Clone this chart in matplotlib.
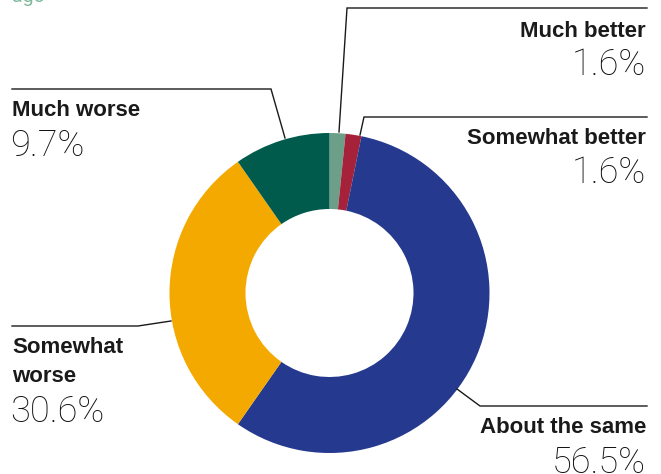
import matplotlib.pyplot as plt

# survey shares, clockwise from 12 o'clock
labels = ["Much better", "Somewhat better", "About the same", "Somewhat worse", "Much worse"]
shares = [1.6, 1.6, 56.5, 30.6, 9.7]
colors = ["#6c9f87", "#a5223a", "#25398e", "#f4a900", "#005b4c"]

W, H = 661, 474
CX, CY, R, RING = 329.5, 293, 160, 76

BOLD = dict(family=["Liberation Sans", "DejaVu Sans"], fontweight="bold",
            fontsize=16, color="#1a1a1a")
LIGHT = dict(family=["Roboto", "DejaVu Sans"], fontweight="light",
             fontsize=26, color="#111111")


def yy(y):
    # pixel rows measured from the top
    return H - y


fig = plt.figure(figsize=(W / 100, H / 100), dpi=100)
ax = fig.add_axes([0, 0, 1, 1])
ax.set_xlim(0, W)
ax.set_ylim(0, H)
ax.set_aspect("equal")
ax.axis("off")

ax.pie(shares, colors=colors, startangle=90, counterclock=False,
       center=(CX, yy(CY)), radius=R,
       wedgeprops=dict(width=RING, linewidth=0))
ax.set_xlim(0, W)
ax.set_ylim(0, H)

# leader lines (pixel coords, from the ring out to the label rule)
leaders = [
    [(339, 132), (347, 8), (647, 8)],
    [(360, 135), (364, 117), (647, 117)],
    [(457, 389), (480, 406), (647, 406)],
    [(171, 321), (138, 326), (12, 326)],
    [(285, 138), (271, 89), (12, 89)],
]
for pts in leaders:
    ax.plot([p[0] for p in pts], [yy(p[1]) for p in pts],
            color="#1a1a1a", lw=1.0, solid_joinstyle="miter")

pct = ["%.1f%%" % v for v in shares]

# right-hand labels
ax.text(646, yy(37), labels[0], ha="right", va="baseline", **BOLD)
ax.text(646, yy(75), pct[0], ha="right", va="baseline", **LIGHT)
ax.text(646, yy(144), labels[1], ha="right", va="baseline", **BOLD)
ax.text(646, yy(183), pct[1], ha="right", va="baseline", **LIGHT)
ax.text(646, yy(433), labels[2], ha="right", va="baseline", **BOLD)
ax.text(646, yy(473), pct[2], ha="right", va="baseline", **LIGHT)

# left-hand labels
ax.text(12, yy(116), labels[4], ha="left", va="baseline", **BOLD)
ax.text(10, yy(156), pct[4], ha="left", va="baseline", **LIGHT)
ax.text(12, yy(353), "Somewhat", ha="left", va="baseline", **BOLD)
ax.text(12, yy(382), "worse", ha="left", va="baseline", **BOLD)
ax.text(10, yy(422), pct[3], ha="left", va="baseline", **LIGHT)

# tail of the title line above the chart
ax.text(12, yy(2), "ago", ha="left", va="baseline",
        family=["Roboto", "DejaVu Sans"], fontsize=14, color="#7db89b")

fig.savefig("out.png", dpi=100)
